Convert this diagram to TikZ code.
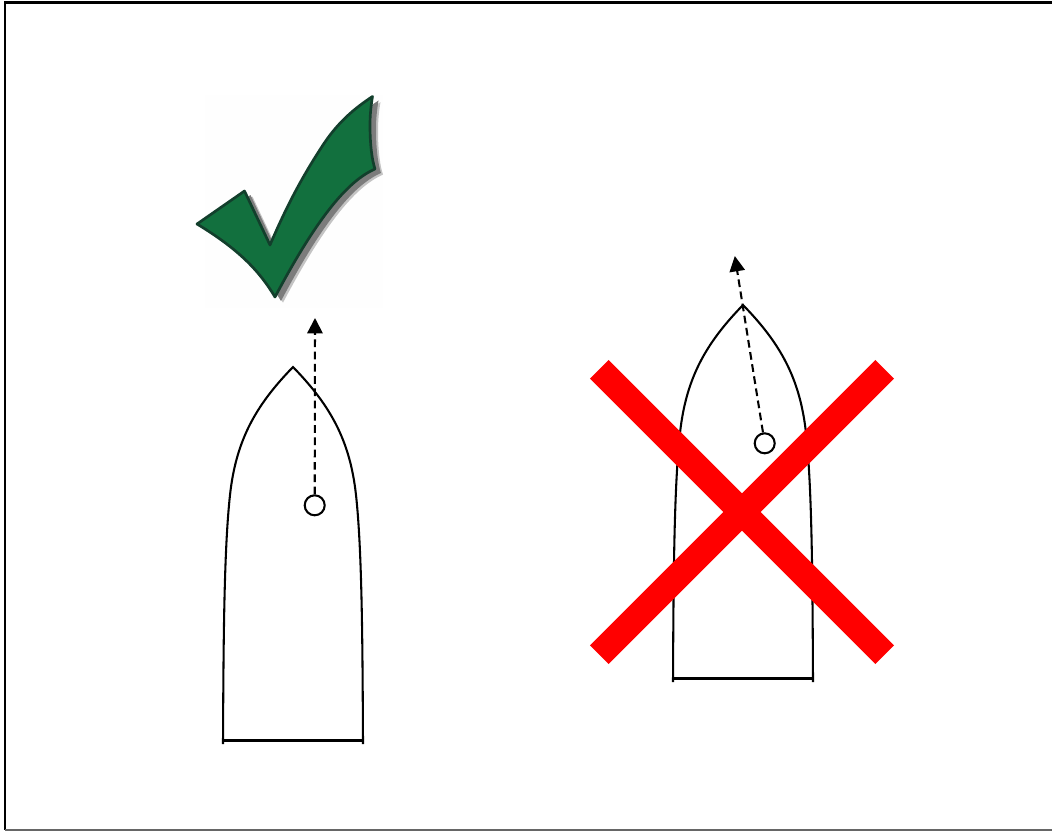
\documentclass[tikz,border=0pt]{standalone}
\usetikzlibrary{arrows.meta}
\definecolor{checkgreen}{HTML}{12703E}
\definecolor{checkdark}{HTML}{123F2C}
\definecolor{checkshadow}{HTML}{7C7C7C}
\newcommand{\checkoutline}{(372.5,96.5) .. controls (371,105) and (370,115) .. (370,125)
      .. controls (370,145) and (372,160) .. (375,169)
      .. controls (350,180) and (320,212) .. (275,297)
      .. controls (260,272) and (240,250) .. (197,224)
      -- (244.5,191) -- (270,245)
      .. controls (285,210) and (300,180) .. (323,145)
      .. controls (338,122) and (355,108) .. (372.5,96.5) -- cycle}
\tikzset{
  hull/.style={draw=black,line width=1.55pt},
  pivot/.style={circle,draw=black,line width=1.55pt,fill=white,minimum size=15pt,inner sep=0pt},
  heading/.style={draw=black,line width=1.55pt,dash pattern=on 5.8pt off 3.4pt,-{Triangle[length=11.5pt,width=11.5pt]}},
  crossbar/.style={draw=red,line width=19.8pt},
  framefront/.style={draw=black,line width=1.7pt},
}
\begin{document}
\begin{tikzpicture}[x=0.75pt,y=-0.75pt]
\useasboundingbox (0,0) rectangle (1052,831);
% frame
\coordinate (ftl) at (5,2.5);
\coordinate (ftr) at (1052,2.5);
\coordinate (fbl) at (5,830);
\coordinate (fbr) at (1052,830);
\draw[framefront] (ftr) -- (ftl) -- (fbl);
\draw[draw=black!60,line width=1pt] (fbl) -- (fbr);
% check mark
\fill[white!99.5!black] (205,95) rectangle (383,308);
\fill[checkshadow!45,xshift=6pt,yshift=-4.2pt] \checkoutline;
\fill[checkshadow,xshift=4.5pt,yshift=-3pt] \checkoutline;
\path[fill=checkgreen,draw=checkdark,line width=2pt,line join=round] \checkoutline;
% left boat
\draw[hull] (223,744) .. controls (223.5,640) and (224,550) .. (230,495)
  .. controls (236,440) and (256,405) .. (293,367)
  .. controls (330,405) and (350,440) .. (356,495)
  .. controls (362,550) and (362.5,640) .. (363,744);
\draw[hull] (223,740.5) -- (363,740.5);
\node[pivot] (c1) at (314.7,505.3) {};
\coordinate (a1) at (315,318);
\draw[heading] (c1) -- (a1);
% right boat
\draw[hull] (673,682) .. controls (673.5,578) and (674,488) .. (680,433)
  .. controls (686,378) and (706,343) .. (743,305)
  .. controls (780,343) and (800,378) .. (806,433)
  .. controls (812,488) and (812.5,578) .. (813,682);
\draw[hull] (673,678.5) -- (813,678.5);
% red cross
\coordinate (x1) at (599.3,369.3);
\coordinate (x2) at (884.7,654.7);
\coordinate (x3) at (599.3,654.7);
\coordinate (x4) at (884.7,369.3);
\draw[crossbar] (x1) -- (x2);
\draw[crossbar] (x3) -- (x4);
\node[pivot] (c2) at (764.7,443.3) {};
\coordinate (a2) at (734.8,256);
\draw[heading] (c2) -- (a2);
\end{tikzpicture}
\end{document}
